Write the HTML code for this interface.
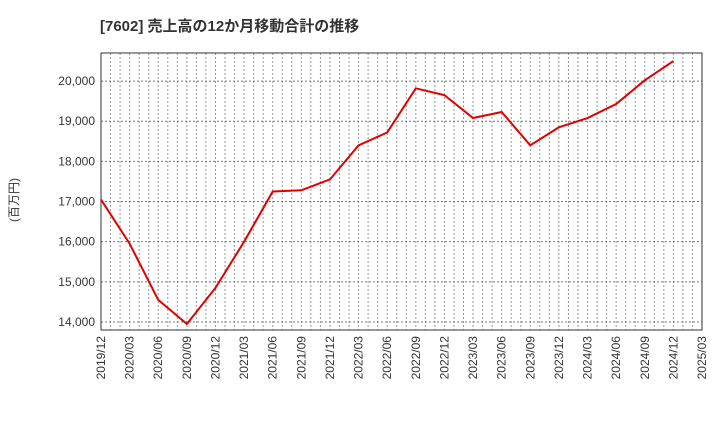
<!DOCTYPE html>
<html><head><meta charset="utf-8"><style>
body{margin:0;background:#fff;}
svg text{font-family:"Liberation Sans","Noto Sans CJK JP",sans-serif;fill:#333;}
</style></head><body>
<svg id="c" width="720" height="440">
<text x="100" y="31" font-size="15" font-weight="bold">[7602]  売上高の12か月移動合計の推移</text>
<text transform="translate(18,200) rotate(-90)" text-anchor="middle" font-size="12">(百万円)</text>
<g id="grid"></g><g id="axes"></g><g id="series"></g>
</svg>
<script>
const xLabels=["2019/12","2020/03","2020/06","2020/09","2020/12","2021/03","2021/06","2021/09","2021/12","2022/03","2022/06","2022/09","2022/12","2023/03","2023/06","2023/09","2023/12","2024/03","2024/06","2024/09","2024/12","2025/03"];
const sales=[17050,15950,14550,13950,14850,16000,17250,17280,17550,18400,18720,19820,19650,19080,19230,18400,18850,19080,19430,20020,20500];
const yTicks=[14000,15000,16000,17000,18000,19000,20000];
const L=101,R=702,T=53,B=330,yMin=13800,yMax=20700;
const ns="http://www.w3.org/2000/svg";
const X=i=>L+(R-L)*i/(xLabels.length-1);
const Y=v=>B-(v-yMin)/(yMax-yMin)*(B-T);
function mk(tag,attrs,parent){const e=document.createElementNS(ns,tag);for(const k in attrs)e.setAttribute(k,attrs[k]);document.getElementById(parent).appendChild(e);return e;}
const nm=(xLabels.length-1)*3;
for(let m=1;m<nm;m++){const x=L+(R-L)*m/nm;
const g=mk('line',{x1:x,x2:x,y1:T,y2:B,stroke:'#999','stroke-dasharray':'2,2','stroke-width':1},'grid');

}
yTicks.forEach(v=>{const y=Y(v);
const g=mk('line',{x1:L,x2:R,y1:y,y2:y,stroke:'#777','stroke-dasharray':'2,2','stroke-width':1},'grid');


const t=mk('text',{x:L-6,y:y+4,'text-anchor':'end','font-size':12},'axes');t.textContent=v.toLocaleString('en-US');

});
xLabels.forEach((s,i)=>{const x=X(i);
const t=mk('text',{transform:`translate(${x+4},${B+6}) rotate(-90)`,'text-anchor':'end','font-size':12},'axes');t.textContent=s;

});
const fr=mk('rect',{x:L,y:T,width:R-L,height:B-T,fill:'none',stroke:'#333','stroke-width':1},'axes');


const p=mk('polyline',{points:sales.map((v,i)=>X(i)+','+Y(v)).join(' '),fill:'none',stroke:'#e00000','stroke-width':2},'series');


</script>
</body></html>
